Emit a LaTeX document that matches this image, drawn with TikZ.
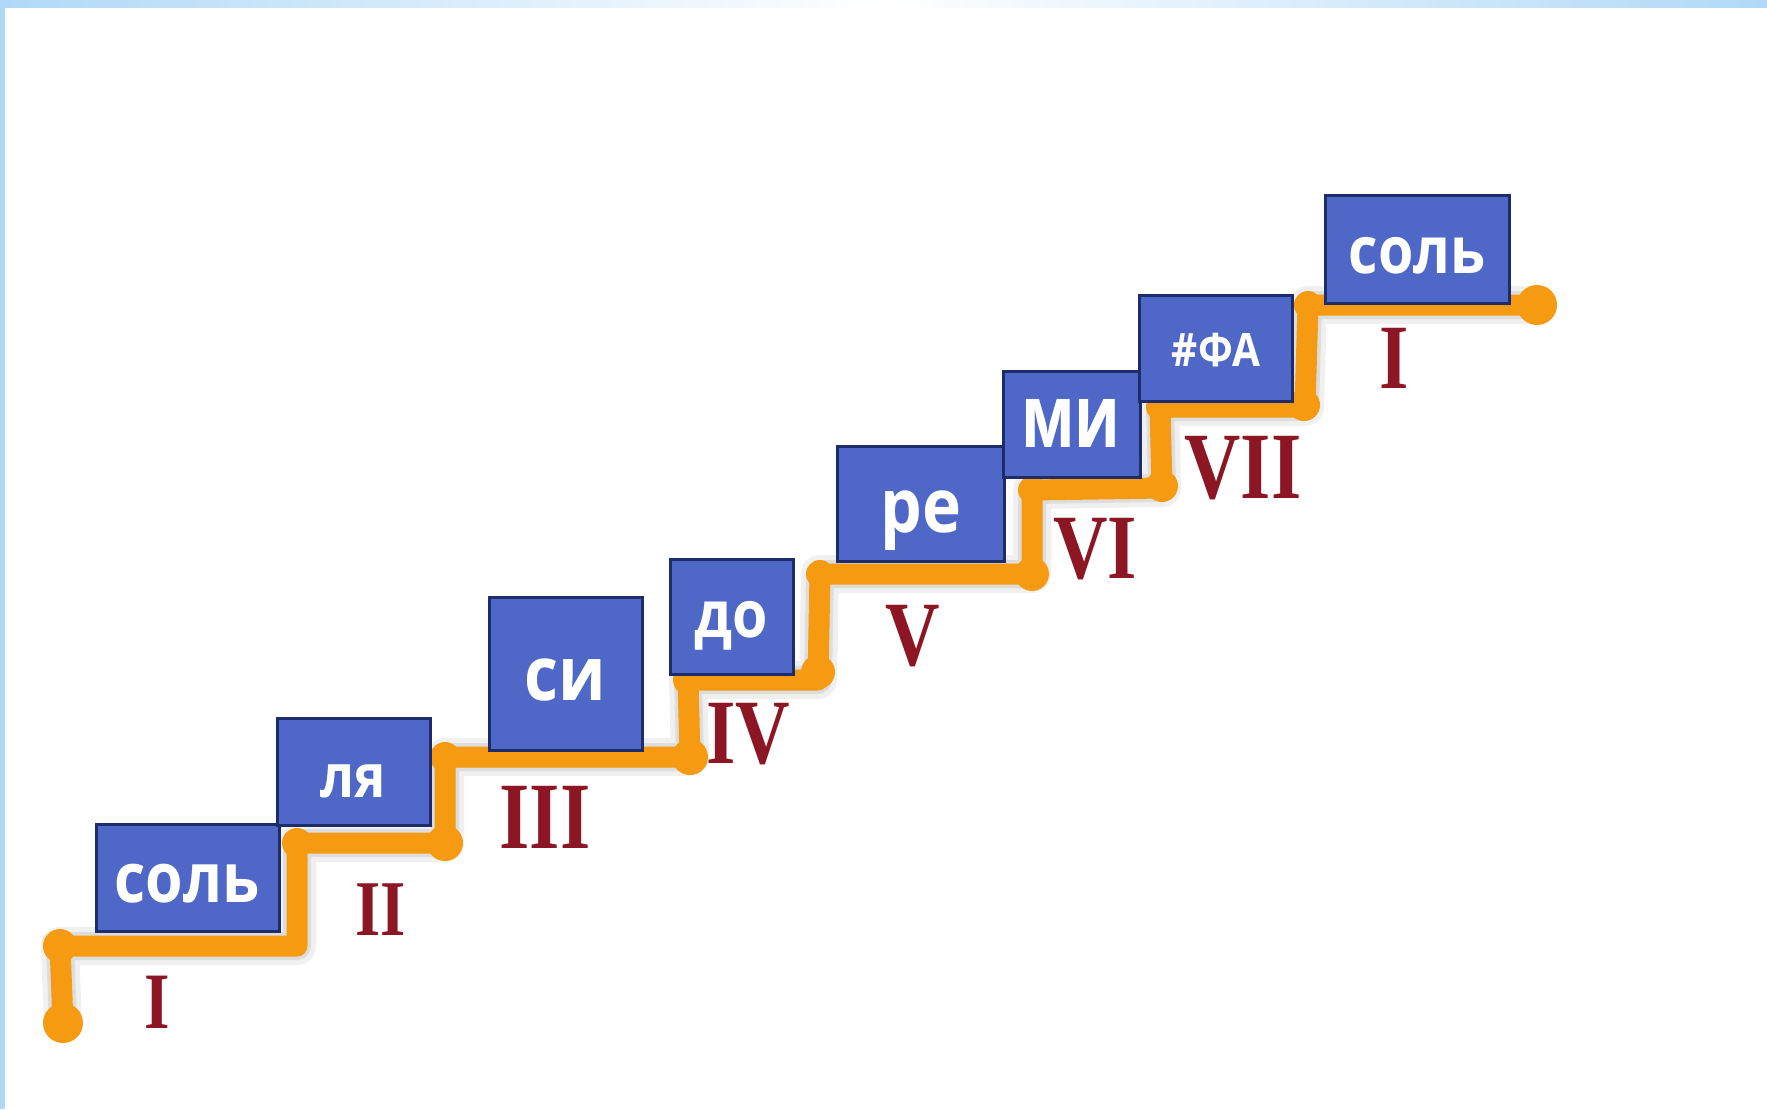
\documentclass[tikz,border=0pt]{standalone}
\usepackage{fontspec}
\newfontfamily\boxfont[FakeStretch=0.88]{Open Sans}
\newfontfamily\romfont[FakeStretch=0.82]{Liberation Serif}
\definecolor{stair}{RGB}{246,154,18}
\definecolor{boxfill}{RGB}{79,104,200}
\definecolor{boxline}{RGB}{30,44,108}
\definecolor{roman}{RGB}{140,22,36}
\definecolor{edgeblue}{RGB}{176,217,247}
\tikzset{
  stairline/.style={draw=stair, line width=21pt, line join=round, line cap=round},
  shadowline/.style={draw=black, line join=round, line cap=round},
  notebox/.style={draw=boxline, fill=boxfill, line width=3pt, inner sep=0pt, rectangle},
  notetext/.style={text=white, anchor=base, inner sep=0pt, font=\boxfont\bfseries\fontsize{#1}{#1}\selectfont},
  romtext/.style={text=roman, anchor=base, inner sep=0pt, font=\romfont\bfseries\fontsize{#1}{#1}\selectfont},
}
\begin{document}
\begin{tikzpicture}[x=1pt,y=-1pt]
\path[use as bounding box, fill=white] (0,0) rectangle (1767,1109);
% frame decoration
\shade[left color=edgeblue, right color=edgeblue, middle color=white] (0,0) rectangle (1767,7);
\fill[edgeblue] (0,0) rectangle (5,1109);
% staircase coordinates
\coordinate (p0) at (63,1023);
\coordinate (p1) at (60,946);
\coordinate (p2) at (297,946);
\coordinate (p3) at (297,843);
\coordinate (p4) at (445,843);
\coordinate (p5) at (445,757);
\coordinate (p6) at (690,757);
\coordinate (p7) at (688,680);
\coordinate (p8) at (818,680);
\coordinate (p9) at (820,574);
\coordinate (p10) at (1032,574);
\coordinate (p11) at (1032,490);
\coordinate (p12) at (1162,488);
\coordinate (p13) at (1160,407);
\coordinate (p14) at (1305,407);
\coordinate (p15) at (1308,305);
\coordinate (p16) at (1537,305);
% shadow
\begin{scope}[shift={(9,12)}]
\draw[shadowline, line width=38pt, opacity=0.06] (p0) -- (p1) -- (p2) -- (p3) -- (p4) -- (p5) -- (p6) -- (p7) -- (p8) -- (p9) -- (p10) -- (p11) -- (p12) -- (p13) -- (p14) -- (p15) -- (p16);
\draw[shadowline, line width=28pt, opacity=0.08] (p0) -- (p1) -- (p2) -- (p3) -- (p4) -- (p5) -- (p6) -- (p7) -- (p8) -- (p9) -- (p10) -- (p11) -- (p12) -- (p13) -- (p14) -- (p15) -- (p16);
\draw[shadowline, line width=18pt, opacity=0.10] (p0) -- (p1) -- (p2) -- (p3) -- (p4) -- (p5) -- (p6) -- (p7) -- (p8) -- (p9) -- (p10) -- (p11) -- (p12) -- (p13) -- (p14) -- (p15) -- (p16);
\end{scope}
% staircase
\draw[stairline] (p0) -- (p1) -- (p2) -- (p3) -- (p4) -- (p5) -- (p6) -- (p7) -- (p8) -- (p9) -- (p10) -- (p11) -- (p12) -- (p13) -- (p14) -- (p15) -- (p16);
\fill[stair] (p0) circle (20pt) (p16) circle (20pt);
\fill[stair] (p1) circle (17pt) (p3) circle (15pt) (p5) circle (15pt) (p7) circle (15pt) (p9) circle (14pt) (p11) circle (14pt) (p13) circle (14pt) (p15) circle (14pt);
\fill[stair] (p4) circle (18pt) (p6) circle (18pt) (818,672) circle (17pt) (p10) circle (17pt) (1162,486) circle (16pt) (1304,405) circle (16pt);
% roman numerals
\node[romtext=80] (r1) at (157,1028) {I};
\node[romtext=79] (r2) at (381,935) {II};
\node[romtext=95] (r3) at (545,848) {III};
\node[romtext=92] (r4) at (748,763) {IV};
\node[romtext=92] (r5) at (913,665) {V};
\node[romtext=92] (r6) at (1095,578) {VI};
\node[romtext=95] (r7) at (1243,498) {VII};
\node[romtext=92] (r8) at (1394,388) {I};
% note boxes
\node[notebox, minimum width=183pt, minimum height=107pt] (b1) at (187.5,877.5) {};
\node[notebox, minimum width=153pt, minimum height=107pt] (b2) at (353.5,771.5) {};
\node[notebox, minimum width=153pt, minimum height=153pt] (b3) at (565.5,673.5) {};
\node[notebox, minimum width=123pt, minimum height=115pt] (b4) at (731.5,616.5) {};
\node[notebox, minimum width=167pt, minimum height=115pt] (b5) at (920.5,503.5) {};
\node[notebox, minimum width=137pt, minimum height=106pt] (b6) at (1071.5,424) {};
\node[notebox, minimum width=153pt, minimum height=106pt] (b7) at (1215.5,348) {};
\node[notebox, minimum width=184pt, minimum height=108pt] (b8) at (1417,249) {};
% note names
\node[notetext=69] (t1) at (187,902) {соль};
\node[notetext=60] (t2) at (353,797) {ля};
\node[notetext=75] (t3) at (565,700) {си};
\node[notetext=65] (t4) at (731,637) {до};
\node[notetext=75] (t5) at (921,532) {ре};
\node[notetext=88] (t6) at (1071,447) {\scalebox{0.82}[1]{ми}};
\node[notetext=46] (t7) at (1216,366) {\#ФА};
\node[notetext=65] (t8) at (1417,273) {соль};
\end{tikzpicture}
\end{document}
